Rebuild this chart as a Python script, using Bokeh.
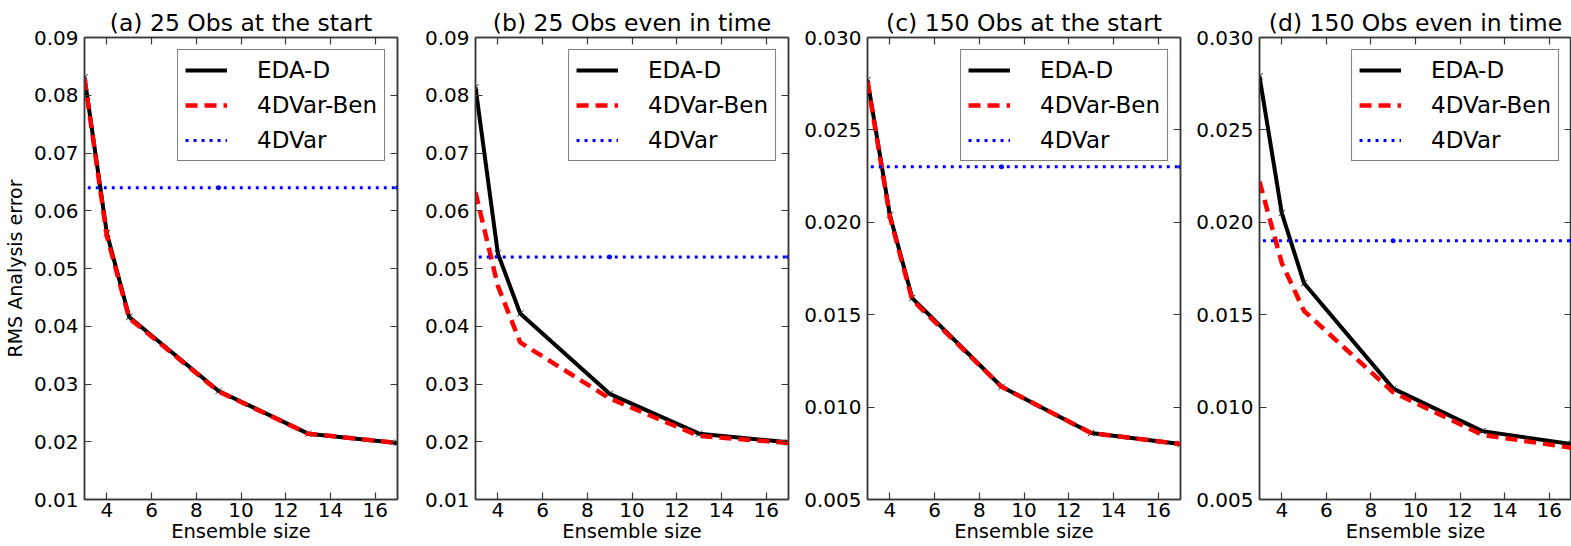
from bokeh.plotting import figure
from bokeh.models import Range1d, FixedTicker, NumeralTickFormatter, LinearAxis, Legend, LegendItem
from bokeh.layouts import row
from bokeh.embed import file_html
from bokeh.resources import INLINE

FONT = "DejaVu Sans"

# ---------------- data ----------------
ens_size = [3, 4, 5, 9, 13, 17]
fdvar_x = [1, 9, 17]

titles = ["(a) 25 Obs at the start", "(b) 25 Obs even in time",
          "(c) 150 Obs at the start", "(d) 150 Obs even in time"]
x_label = "Ensemble size"
y_label = "RMS Analysis error"

eda_a = [0.0831, 0.0561, 0.0416, 0.0288, 0.0214, 0.0198]
ben_a = [0.0829, 0.0556, 0.0414, 0.0287, 0.0214, 0.0198]
fdvar_a = 0.0640

eda_b = [0.0814, 0.0526, 0.0422, 0.0283, 0.0214, 0.0199]
ben_b = [0.0632, 0.0470, 0.0372, 0.0275, 0.0210, 0.0198]
fdvar_b = 0.0520

eda_c = [0.0277, 0.0204, 0.0159, 0.0111, 0.0086, 0.0080]
ben_c = [0.0276, 0.0203, 0.0158, 0.0111, 0.0086, 0.0080]
fdvar_c = 0.0230

eda_d = [0.0279, 0.0205, 0.0167, 0.0110, 0.0087, 0.0080]
ben_d = [0.0222, 0.0178, 0.0152, 0.0108, 0.0085, 0.0078]
fdvar_d = 0.0190

x_ticks = [4, 6, 8, 10, 12, 14, 16]
x_range = (3, 17)
y_ticks_ab = [0.01, 0.02, 0.03, 0.04, 0.05, 0.06, 0.07, 0.08, 0.09]
y_ticks_cd = [0.005, 0.010, 0.015, 0.020, 0.025, 0.030]
y_range_ab = (0.01, 0.09)
y_range_cd = (0.005, 0.030)

legend_labels = ["EDA-D", "4DVar-Ben", "4DVar"]
AX = "#3a3a3a"


def style_axis(ax, labels=True, standoff=6):
    ax.major_tick_in = 7
    ax.major_tick_out = 0
    ax.minor_tick_in = 0
    ax.minor_tick_out = 0
    ax.axis_line_color = AX
    ax.axis_line_width = 1.5
    ax.major_tick_line_color = AX
    ax.major_tick_line_width = 1.2
    ax.major_label_text_font = FONT
    ax.major_label_text_color = "black"
    if labels:
        ax.major_label_text_font_size = "20px"
        ax.major_label_standoff = standoff
    else:
        ax.major_label_text_font_size = "0px"
        ax.major_label_standoff = 0


def make_panel(title, eda, ben, fdvar, yr, yticks, fmt, left, right, width, ylabel=None):
    p = figure(width=width, height=546, x_range=Range1d(*x_range), y_range=Range1d(*yr),
               output_backend="svg", toolbar_location=None,
               min_border_left=left, min_border_right=right,
               min_border_top=37, min_border_bottom=47, title=title)
    p.title.align = "center"
    p.title.text_font = FONT
    p.title.text_font_size = "23.5px"
    p.title.text_font_style = "normal"
    p.title.text_color = "black"
    p.title.standoff = 2
    p.grid.visible = False
    p.outline_line_color = AX
    p.outline_line_width = 1.5
    p.background_fill_color = "white"
    p.border_fill_color = "white"

    p.xaxis.ticker = FixedTicker(ticks=x_ticks)
    p.yaxis.ticker = FixedTicker(ticks=yticks)
    p.yaxis.formatter = NumeralTickFormatter(format=fmt)
    style_axis(p.xaxis[0], standoff=3)
    style_axis(p.yaxis[0], standoff=6)
    p.xaxis.axis_label = x_label
    p.xaxis.axis_label_text_font = FONT
    p.xaxis.axis_label_text_font_size = "19.5px"
    p.xaxis.axis_label_text_font_style = "normal"
    p.xaxis.axis_label_text_color = "black"
    p.xaxis.axis_label_standoff = 0
    if ylabel:
        p.yaxis.axis_label = ylabel
        p.yaxis.axis_label_text_font = FONT
        p.yaxis.axis_label_text_font_size = "19px"
        p.yaxis.axis_label_text_font_style = "normal"
        p.yaxis.axis_label_text_color = "black"
        p.yaxis.axis_label_standoff = 5

    top = LinearAxis(ticker=FixedTicker(ticks=x_ticks))
    style_axis(top, labels=False)
    p.add_layout(top, "above")
    rgt = LinearAxis(ticker=FixedTicker(ticks=yticks))
    style_axis(rgt, labels=False)
    p.add_layout(rgt, "right")

    l1 = p.line(ens_size, eda, line_color="black", line_width=4)
    p.scatter(ens_size, eda, marker="x", size=9, line_color="#222222", line_width=1)
    l2 = p.line(ens_size, ben, line_color="#ff0000", line_width=4.5, line_dash="12 7")
    fd = [fdvar] * len(fdvar_x)
    l3 = p.line(fdvar_x, fd, line_color="#0000ff", line_width=3, line_dash="3 5")
    p.scatter(fdvar_x, fd, marker="circle", size=4, line_color="#0000ff", fill_color="#0000ff")

    leg = Legend(items=[LegendItem(label=legend_labels[0], renderers=[l1]),
                        LegendItem(label=legend_labels[1], renderers=[l2]),
                        LegendItem(label=legend_labels[2], renderers=[l3])],
                 location="top_right")
    leg.margin = 12
    leg.padding = 7
    leg.spacing = 9
    leg.glyph_width = 42
    leg.glyph_height = 26
    leg.label_height = 26
    leg.label_standoff = 30
    leg.label_text_font = FONT
    leg.label_text_font_size = "23px"
    leg.label_text_color = "black"
    leg.border_line_color = "black"
    leg.border_line_width = 1.5
    leg.background_fill_color = "white"
    leg.background_fill_alpha = 1.0
    p.add_layout(leg, "center")
    return p


p1 = make_panel(titles[0], eda_a, ben_a, fdvar_a, y_range_ab, y_ticks_ab, "0.00", 84, 10, 407,
                ylabel=y_label)
p2 = make_panel(titles[1], eda_b, ben_b, fdvar_b, y_range_ab, y_ticks_ab, "0.00", 68, 10, 391)
p3 = make_panel(titles[2], eda_c, ben_c, fdvar_c, y_range_cd, y_ticks_cd, "0.000", 69, 10, 392)
p4 = make_panel(titles[3], eda_d, ben_d, fdvar_d, y_range_cd, y_ticks_cd, "0.000", 69, 0, 381)

layout = row(p1, p2, p3, p4)
open("out.html", "w").write(file_html(layout, INLINE))
